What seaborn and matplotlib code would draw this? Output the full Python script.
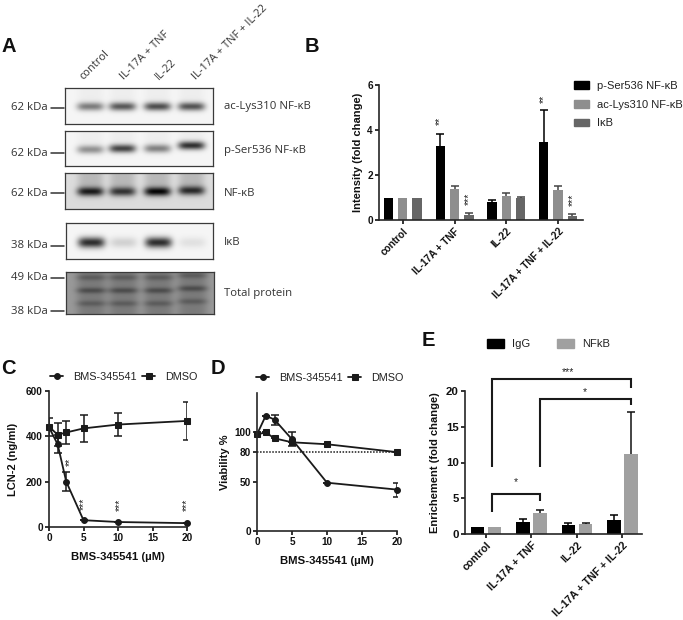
import numpy as np
import pandas as pd
import matplotlib
matplotlib.use("Agg")
import matplotlib.pyplot as plt
from matplotlib.lines import Line2D
import seaborn as sns

W, H = 683, 620

# panel A: band darkness per lane
lanes = ["control", "IL-17A + TNF", "IL-22", "IL-17A + TNF + IL-22"]
ac_lys_bands = [0.44, 0.58, 0.62, 0.60]
p_ser_bands = [0.36, 0.66, 0.42, 0.74]
nfkb_bands = [0.62, 0.52, 0.70, 0.56]
ikb_bands = [0.78, 0.14, 0.78, 0.08]
blot_labels = ["ac-Lys310 NF-κB", "p-Ser536 NF-κB", "NF-κB", "IκB", "Total protein"]
kda_labels = ["62 kDa", "62 kDa", "62 kDa", "38 kDa", "49 kDa", "38 kDa"]

# panel B
conditions = ["control", "IL-17A + TNF", "IL-22", "IL-17A + TNF + IL-22"]
b_series = ["p-Ser536 NF-κB", "ac-Lys310 NF-κB", "IκB"]
b_pser = [1.0, 3.27, 0.80, 3.45]
b_aclys = [1.0, 1.40, 1.08, 1.33]
b_ikb = [1.0, 0.22, 1.00, 0.17]
b_pser_err = [0, 0.56, 0.08, 1.45]
b_aclys_err = [0, 0.12, 0.10, 0.20]
b_ikb_err = [0, 0.11, 0.04, 0.08]

# panels C and D
dose = [0, 1.25, 2.5, 5, 10, 20]
c_bms = [440, 365, 200, 30, 22, 17]
c_bms_err = [0, 40, 42, 0, 0, 0]
c_dmso = [443, 407, 417, 435, 452, 468]
c_dmso_err = [40, 50, 50, 60, 50, 85]
d_bms = [98, 117, 113, 93, 49, 42]
d_bms_err = [0, 0, 5, 7, 0, 7]
d_dmso = [98, 100, 94, 90, 88, 80]
d_dmso_err = [0, 0, 0, 0, 0, 0]

# panel E
e_series = ["IgG", "NFkB"]
e_igg = [1.0, 1.70, 1.25, 1.95]
e_nfkb = [1.0, 2.95, 1.40, 11.2]
e_igg_err = [0, 0.35, 0.25, 0.75]
e_nfkb_err = [0, 0.40, 0.15, 5.8]

sns.set_theme(style="ticks")
plt.rcParams["font.family"] = ["Liberation Sans", "DejaVu Sans"]
plt.rcParams["axes.linewidth"] = 1.2
plt.rcParams["xtick.major.width"] = 1.2
plt.rcParams["ytick.major.width"] = 1.2
plt.rcParams["xtick.major.size"] = 3
plt.rcParams["ytick.major.size"] = 3
plt.rcParams["xtick.major.pad"] = 1.5
plt.rcParams["ytick.major.pad"] = 1.5

fig = plt.figure(figsize=(W / 100, H / 100), dpi=100)


def px_axes(left, top, right, bottom):
    return fig.add_axes([left / W, 1 - bottom / H, (right - left) / W, (bottom - top) / H])


def px_text(x, y, s, **kw):
    fig.text(x / W, 1 - y / H, s, **kw)


def band_image(w, h, bands, centers, band_y, sig_y, bg=0.96, smear=0.0):
    # одна полоса на дорожку, смаз уходит вверх от полосы
    img = np.full((h, w), bg, dtype=float)
    xx, yy = np.meshgrid(np.arange(w), np.arange(h))
    for dark, cx, cy in zip(bands, centers, band_y):
        prof_x = np.exp(-(((xx - cx) / 13.5) ** 4))
        img -= dark * prof_x * np.exp(-(((yy - cy) / sig_y) ** 2))
        if smear:
            above = np.where(yy < cy, 1.0, np.exp(-(((yy - cy) / 6.0) ** 2)))
            img -= smear * np.exp(-(((xx - cx) / 13.0) ** 4)) * above
    return np.clip(img, 0, 1)


def draw_blot(box, img):
    ax = px_axes(*box)
    sns.heatmap(img, ax=ax, cmap="gray", vmin=0, vmax=1, cbar=False,
                xticklabels=False, yticklabels=False)
    for s in ax.spines.values():
        s.set_visible(True)
        s.set_color("#3a3a3a")
        s.set_linewidth(0.9)
    return ax


lane_x = [25, 57, 92, 126]
draw_blot((65, 88, 213, 124), band_image(148, 36, ac_lys_bands, lane_x, [18, 18, 18, 18], 4.2, smear=0.03))
draw_blot((65, 131, 213, 166), band_image(148, 35, p_ser_bands, lane_x, [18, 17, 17, 14], 4.2, smear=0.03))
draw_blot((65, 173, 213, 209), band_image(148, 36, nfkb_bands, lane_x, [18, 18, 18, 17], 4.4, bg=0.86, smear=0.14))
draw_blot((66, 223, 213, 259), band_image(147, 36, ikb_bands, lane_x, [19, 19, 19, 19], 5.4))

# суммарный белок: три полосы на дорожку
total_w, total_h = 148, 42
total_img = np.full((total_h, total_w), 0.60)
xx, yy = np.meshgrid(np.arange(total_w), np.arange(total_h))
for cx, shift in zip(lane_x, [0, 0, 0, -2]):
    lane = np.exp(-(((xx - cx) / 15.0) ** 4))
    total_img -= 0.12 * lane
    for cy, dark in zip([5, 18, 31], [0.12, 0.18, 0.12]):
        total_img -= dark * lane * np.exp(-(((yy - cy - shift) / 3.0) ** 2))
draw_blot((66, 272, 214, 314), np.clip(total_img, 0, 1))

lab_font = dict(family="Open Sans", fontsize=8.2, color="#333333")
for y, s in zip([108, 153, 193, 246, 278, 311], kda_labels):
    px_text(48, y, s, ha="right", va="center", **lab_font)
    fig.add_artist(Line2D([51 / W, 64 / W], [1 - y / H, 1 - y / H], color="#333333", lw=1.1))
for y, s in zip([107, 150, 193, 243, 294], blot_labels):
    px_text(224, y, s, ha="left", va="center", **lab_font)
for x, s in zip([85, 126, 161, 198], lanes):
    px_text(x, 82, s, ha="left", va="bottom", rotation=45, rotation_mode="anchor",
            family="Open Sans", fontsize=7.9, color="#333333")

for (x, y), s in zip([(1, 46), (305, 46), (1, 368), (211, 368), (422, 340)], "ABCDE"):
    px_text(x, y, s, ha="left", va="center", fontsize=14.5, fontweight="bold", color="#111111")


def style_axis(ax, ylabel, xlabel="", labelsize=7.2, ypad=2):
    ax.set_ylabel(ylabel, fontsize=8.0, fontweight="bold", color="#111111", labelpad=ypad)
    ax.set_xlabel(xlabel, fontsize=8.2, fontweight="bold", color="#111111", labelpad=6)
    ax.tick_params(axis="both", labelsize=labelsize, colors="#111111")
    for lab in ax.get_xticklabels() + ax.get_yticklabels():
        lab.set_fontweight("bold")
    sns.despine(ax=ax)
    ax.patch.set_alpha(0)


def group_bars(ax, series_names, values, errors, colors, err_colors, width, gap):
    rows = []
    for name, vals in zip(series_names, values):
        for cond, v in zip(conditions, vals):
            rows.append({"condition": cond, "series": name, "value": v})
    df = pd.DataFrame(rows)
    sns.barplot(data=df, x="condition", y="value", hue="series", palette=colors, order=conditions,
                hue_order=series_names, width=width, gap=gap, errorbar=None, legend=False,
                saturation=1, linewidth=0, ax=ax)
    for cont, vals, errs, col in zip(ax.containers, values, errors, err_colors):
        xs = [p.get_x() + p.get_width() / 2 for p in cont.patches]
        for x, v, e in zip(xs, vals, errs):
            if e > 0:
                _, caps, _ = ax.errorbar(x, v, yerr=[[0], [e]], color=col, capsize=2.6,
                                         elinewidth=1.1, capthick=1.1)
                caps[0].set_visible(False)


def tilt_labels(ax):
    ax.set_xticks(range(len(conditions)))
    ax.set_xticklabels(conditions, rotation=45, ha="right", rotation_mode="anchor")


def stars(ax, x, y, s, rotation=90, size=7.5):
    ax.text(x, y, s, ha="center", va="center", rotation=rotation, fontsize=size, color="#222222", clip_on=False)


# panel B
ax_b = px_axes(379, 85, 583, 220)
b_colors = ["#000000", "#8e8e8e", "#666666"]
group_bars(ax_b, b_series, [b_pser, b_aclys, b_ikb], [b_pser_err, b_aclys_err, b_ikb_err], b_colors,
           ["#000000", "#444444", "#444444"], 0.83, 0.35)
ax_b.set_xlim(-0.46, 3.48)
ax_b.set_ylim(0, 6)
ax_b.set_yticks([0, 2, 4, 6])
tilt_labels(ax_b)
style_axis(ax_b, "Intensity (fold change)", ypad=3)
stars(ax_b, 0.725, 4.4, "**")
stars(ax_b, 2.73, 5.4, "**")
stars(ax_b, 1.27, 0.92, "***")
stars(ax_b, 3.28, 0.88, "***")
fig.legend(handles=[plt.Rectangle((0, 0), 1, 1, color=c) for c in b_colors], labels=b_series,
           loc="upper left", bbox_to_anchor=(574 / W, 1 - 81 / H), frameon=False, fontsize=8.0,
           handlelength=1.35, handleheight=0.7, labelspacing=0.78, handletextpad=0.7, borderpad=0,
           borderaxespad=0, labelcolor="#222222")


def dose_panel(ax, bms, bms_err, dmso, dmso_err):
    sns.lineplot(x=dose, y=bms, marker="o", color="k", lw=1.3, markersize=4.2, errorbar=None,
                 markeredgecolor="k", ax=ax, clip_on=False, label="BMS-345541", legend=False)
    sns.lineplot(x=dose, y=dmso, marker="s", color="k", lw=1.3, markersize=4.2, errorbar=None,
                 markeredgecolor="k", ax=ax, clip_on=False, label="DMSO", legend=False)
    ax.errorbar(dose, bms, yerr=bms_err, fmt="none", ecolor="k", capsize=2.6, elinewidth=1.1, capthick=1.1)
    ax.errorbar(dose, dmso, yerr=dmso_err, fmt="none", ecolor="k", capsize=2.6, elinewidth=1.1, capthick=1.1)
    ax.set_xlim(0, 20)
    ax.set_xticks([0, 5, 10, 15, 20])


def dose_legend(ax, x, y):
    ax.legend(handles=ax.get_lines()[:2], labels=["BMS-345541", "DMSO"], ncol=2, frameon=False,
              loc="center left", bbox_to_anchor=(x, y), bbox_transform=fig.transFigure,
              fontsize=7.8, handlelength=1.2, columnspacing=0.55, handletextpad=0.9, borderpad=0,
              borderaxespad=0, labelcolor="#222222")


# panel C
ax_c = px_axes(49, 391, 187, 527)
dose_panel(ax_c, c_bms, c_bms_err, c_dmso, c_dmso_err)
ax_c.set_ylim(0, 600)
ax_c.set_yticks([0, 200, 400, 600])
style_axis(ax_c, "LCN-2 (ng/ml)", "BMS-345541 (µM)", ypad=6)
for x, y, s in zip([3, 5.1, 10.2, 20], [288, 104, 100, 97], ["**", "***", "***", "***"]):
    stars(ax_c, x, y, s)
dose_legend(ax_c, 50 / W, 1 - 377 / H)

# panel D
ax_d = px_axes(257, 393, 397, 531)
dose_panel(ax_d, d_bms, d_bms_err, d_dmso, d_dmso_err)
ax_d.axhline(80, color="k", lw=1.1, ls=(0, (1, 1)))
ax_d.set_ylim(0, 140)
ax_d.set_yticks([0, 50, 80, 100])
style_axis(ax_d, "Viability %", "BMS-345541 (µM)", ypad=3)
dose_legend(ax_d, 256 / W, 1 - 378 / H)

# panel E
ax_e = px_axes(465, 391, 642, 534)
e_colors = ["#000000", "#a0a0a0"]
group_bars(ax_e, e_series, [e_igg, e_nfkb], [e_igg_err, e_nfkb_err], e_colors,
           ["#000000", "#111111"], 0.756, 0.22)
ax_e.set_xlim(-0.46, 3.43)
ax_e.set_ylim(0, 20)
ax_e.set_yticks([0, 5, 10, 15, 20])
tilt_labels(ax_e)
style_axis(ax_e, "Enrichement (fold change)", labelsize=8.2, ypad=4)
ax_e.tick_params(axis="x", labelsize=7.6)
for xs, ys in zip([[0.125, 0.125, 1.19, 1.19], [1.19, 1.19, 3.18, 3.18], [0.125, 0.125, 3.18, 3.18]],
                  [[3.1, 5.56, 5.56, 4.6], [9.4, 18.9, 18.9, 18.1], [9.4, 21.7, 21.7, 20.4]]):
    ax_e.plot(xs, ys, color="k", lw=1.5, clip_on=False, solid_joinstyle="miter", solid_capstyle="butt")
stars(ax_e, 0.66, 7.2, "*", rotation=0)
stars(ax_e, 2.18, 19.9, "*", rotation=0)
stars(ax_e, 1.8, 22.7, "***", rotation=0)
fig.legend(handles=[plt.Rectangle((0, 0), 1, 1, color=c) for c in e_colors], labels=e_series,
           ncol=2, loc="center left", bbox_to_anchor=(487 / W, 1 - 344 / H), frameon=False,
           fontsize=8.1, handlelength=1.5, handleheight=0.9, columnspacing=2.4, handletextpad=0.7,
           borderpad=0, borderaxespad=0, labelcolor="#222222")

fig.savefig("out.png", dpi=100)
